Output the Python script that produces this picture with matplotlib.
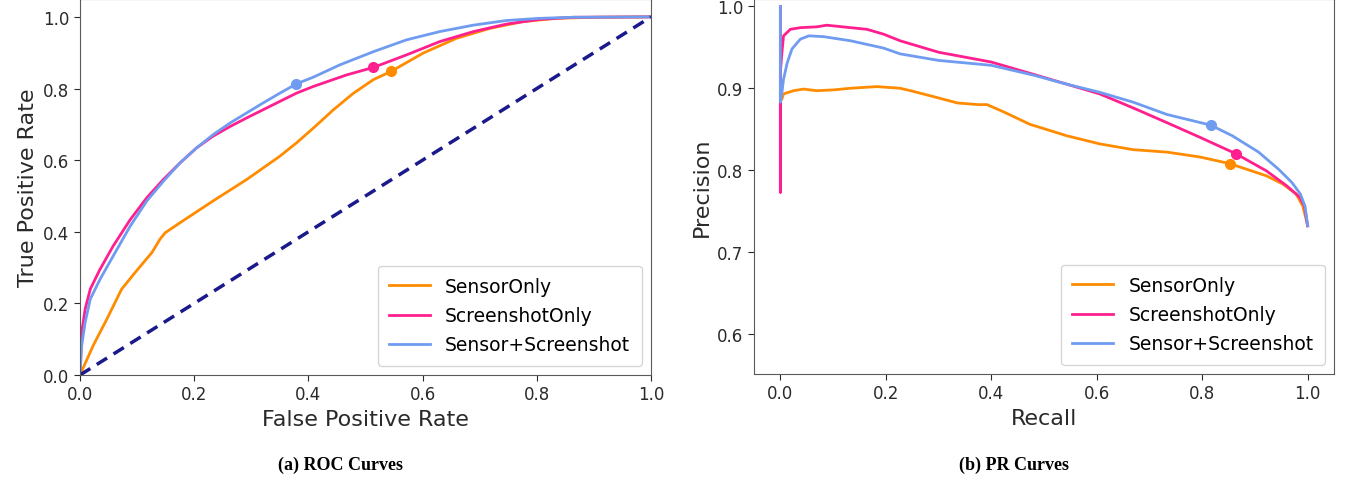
import matplotlib
matplotlib.use("Agg")
import matplotlib.pyplot as plt

# ---------------- data ----------------
series_names = ["SensorOnly", "ScreenshotOnly", "Sensor+Screenshot"]
colors = ["#ff8c00", "#ff1f8e", "#6f9cf0"]

# ROC curves
roc_sensor_fpr = [0.0, 0.023, 0.047, 0.073, 0.099, 0.126, 0.140, 0.149, 0.175, 0.233, 0.292, 0.350, 0.379, 0.409, 0.444, 0.479, 0.514, 0.545, 0.601, 0.659, 0.718, 0.776, 0.834, 0.9, 1.0]
roc_sensor_tpr = [0.0, 0.082, 0.156, 0.240, 0.291, 0.342, 0.379, 0.397, 0.425, 0.486, 0.546, 0.611, 0.648, 0.690, 0.741, 0.787, 0.825, 0.848, 0.899, 0.940, 0.968, 0.987, 0.996, 0.999, 1.0]

roc_shot_fpr = [0.0, 0.003, 0.009, 0.018, 0.035, 0.058, 0.088, 0.117, 0.146, 0.175, 0.204, 0.233, 0.263, 0.292, 0.321, 0.350, 0.379, 0.409, 0.467, 0.514, 0.572, 0.630, 0.689, 0.747, 0.805, 0.864, 1.0]
roc_shot_tpr = [0.0, 0.119, 0.184, 0.240, 0.295, 0.360, 0.434, 0.495, 0.546, 0.592, 0.634, 0.667, 0.694, 0.718, 0.741, 0.764, 0.787, 0.806, 0.838, 0.859, 0.894, 0.931, 0.959, 0.980, 0.993, 0.999, 1.0]

roc_both_fpr = [0.0, 0.003, 0.009, 0.018, 0.035, 0.058, 0.088, 0.117, 0.146, 0.175, 0.204, 0.233, 0.263, 0.292, 0.321, 0.350, 0.379, 0.409, 0.455, 0.514, 0.572, 0.630, 0.689, 0.747, 0.805, 0.864, 1.0]
roc_both_tpr = [0.0, 0.082, 0.147, 0.212, 0.267, 0.332, 0.416, 0.486, 0.541, 0.592, 0.634, 0.671, 0.704, 0.732, 0.760, 0.787, 0.813, 0.832, 0.866, 0.903, 0.936, 0.959, 0.977, 0.990, 0.996, 0.999, 1.0]

roc_points_fpr = [0.545, 0.514, 0.379]
roc_points_tpr = [0.848, 0.859, 0.813]

# PR curves
pr_sensor_rec = [0.003, 0.006, 0.025, 0.044, 0.069, 0.101, 0.133, 0.183, 0.227, 0.247, 0.295, 0.336, 0.376, 0.392, 0.424, 0.473, 0.543, 0.606, 0.669, 0.733, 0.796, 0.852, 0.922, 0.953, 0.978, 0.991, 1.0]
pr_sensor_prec = [0.887, 0.893, 0.897, 0.899, 0.897, 0.898, 0.900, 0.902, 0.900, 0.897, 0.889, 0.882, 0.880, 0.880, 0.871, 0.856, 0.842, 0.832, 0.825, 0.822, 0.816, 0.808, 0.793, 0.783, 0.771, 0.756, 0.732]

pr_shot_rec = [0.0, 0.0, 0.0, 0.003, 0.006, 0.019, 0.038, 0.069, 0.088, 0.133, 0.164, 0.196, 0.227, 0.3, 0.4, 0.480, 0.543, 0.606, 0.669, 0.733, 0.796, 0.864, 0.922, 0.960, 0.985, 0.994, 1.0]
pr_shot_prec = [1.0, 0.773, 0.92, 0.944, 0.964, 0.972, 0.974, 0.975, 0.977, 0.974, 0.972, 0.966, 0.958, 0.944, 0.932, 0.917, 0.905, 0.893, 0.876, 0.858, 0.840, 0.820, 0.799, 0.781, 0.767, 0.756, 0.732]

pr_both_rec = [0.0, 0.0, 0.003, 0.006, 0.013, 0.022, 0.038, 0.054, 0.082, 0.133, 0.196, 0.227, 0.3, 0.4, 0.480, 0.543, 0.606, 0.669, 0.733, 0.816, 0.857, 0.907, 0.945, 0.970, 0.986, 0.995, 1.0]
pr_both_prec = [1.0, 0.883, 0.895, 0.911, 0.931, 0.948, 0.960, 0.964, 0.963, 0.958, 0.949, 0.942, 0.934, 0.928, 0.916, 0.905, 0.895, 0.883, 0.868, 0.855, 0.842, 0.822, 0.801, 0.785, 0.771, 0.756, 0.732]

pr_points_rec = [0.852, 0.864, 0.816]
pr_points_prec = [0.808, 0.820, 0.855]

xticks = [0.0, 0.2, 0.4, 0.6, 0.8, 1.0]
roc_yticks = [0.0, 0.2, 0.4, 0.6, 0.8, 1.0]
pr_yticks = [0.6, 0.7, 0.8, 0.9, 1.0]

# ---------------- figure ----------------
W, H = 1350, 481
fig = plt.figure(figsize=(W / 100, H / 100), dpi=100)

def fx(px):
    return px / W

def fy(py):
    return 1 - py / H

ax1 = fig.add_axes([fx(80), fy(376), fx(651 - 80), fy(0) - fy(376)])
ax2 = fig.add_axes([fx(754), fy(375), fx(1334 - 754), fy(0) - fy(375)])

tick_color = "#2a2a2a"
spine_color = "#5a5a5a"

roc_data = [(roc_sensor_fpr, roc_sensor_tpr), (roc_shot_fpr, roc_shot_tpr), (roc_both_fpr, roc_both_tpr)]
for (x, y), c, n in zip(roc_data, colors, series_names):
    ax1.plot(x, y, color=c, lw=2, label=n, solid_joinstyle="round")
ax1.plot([0, 1], [0, 1], color="#1a1a8c", lw=2.5, ls=(0, (3.5, 2.2)))
for x, y, c in zip(roc_points_fpr, roc_points_tpr, colors):
    ax1.plot([x], [y], "o", color=c, ms=7)
ax1.set_xlim(0, 1)
ax1.set_ylim(0, 1.05)
ax1.set_xticks(xticks)
ax1.set_yticks(roc_yticks)
ax1.set_xlabel("False Positive Rate", fontsize=16, color=tick_color)
ax1.set_ylabel("True Positive Rate", fontsize=16, color=tick_color)

pr_data = [(pr_sensor_rec, pr_sensor_prec), (pr_shot_rec, pr_shot_prec), (pr_both_rec, pr_both_prec)]
for (x, y), c, n in zip(pr_data, colors, series_names):
    ax2.plot(x, y, color=c, lw=2, label=n, solid_joinstyle="round")
for x, y, c in zip(pr_points_rec, pr_points_prec, colors):
    ax2.plot([x], [y], "o", color=c, ms=7)
ax2.set_xlim(-0.05, 1.05)
ax2.set_ylim(0.551, 1.009)
ax2.set_xticks(xticks)
ax2.set_yticks(pr_yticks)
ax2.set_xlabel("Recall", fontsize=16, color=tick_color)
ax2.set_ylabel("Precision", fontsize=16, color=tick_color)

for ax in (ax1, ax2):
    ax.tick_params(labelsize=12, colors=tick_color, length=4)
    for s in ax.spines.values():
        s.set_color(spine_color)
    ax.legend(loc="lower right", fontsize=13.5, frameon=True, borderpad=0.6,
              handlelength=2.2, labelspacing=0.55, fancybox=True, framealpha=0.8)

fig.text(fx(341), fy(470), "(a) ROC Curves", ha="center", va="baseline",
         fontsize=13, fontweight="bold", family="Liberation Serif")
fig.text(fx(1014), fy(470), "(b) PR Curves", ha="center", va="baseline",
         fontsize=13, fontweight="bold", family="Liberation Serif")

fig.savefig("out.png", dpi=100)
